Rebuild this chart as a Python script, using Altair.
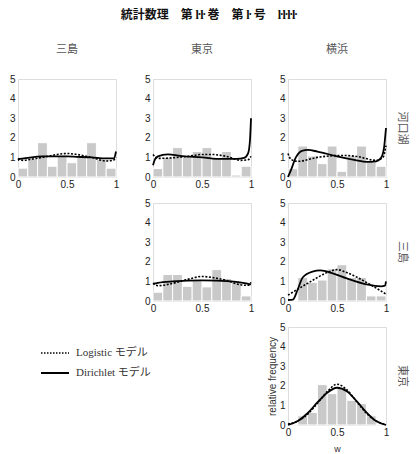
import altair as alt
import pandas as pd

# ---------------- data ----------------
bin_lo = [0.0, 0.1, 0.2, 0.3, 0.4, 0.5, 0.6, 0.7, 0.8, 0.9]
bin_hi = [0.1, 0.2, 0.3, 0.4, 0.5, 0.6, 0.7, 0.8, 0.9, 1.0]

col_names = ["三島", "東京", "横浜"]
row_names = ["河口湖", "三島", "東京"]

# row 河口湖 / col 三島
bars_k_m = [0.45, 0.95, 1.75, 0.55, 1.1, 0.73, 1.07, 1.75, 0.9, 0.45]
sol_x_k_m = [0.0, 0.02, 0.1, 0.25, 0.4, 0.5, 0.6, 0.75, 0.9, 0.98, 1.0]
sol_y_k_m = [0.85, 0.92, 0.98, 1.05, 1.05, 1.05, 1.03, 1.0, 0.95, 0.95, 1.3]
dot_x_k_m = [0.0, 0.05, 0.15, 0.25, 0.4, 0.5, 0.6, 0.75, 0.9, 0.97, 1.0]
dot_y_k_m = [0.95, 0.85, 0.92, 1.0, 1.15, 1.2, 1.15, 1.0, 0.82, 0.85, 1.0]

# row 河口湖 / col 東京
bars_k_t = [0.43, 1.0, 1.5, 1.0, 1.3, 1.5, 0.95, 1.3, 0.1, 0.55]
sol_x_k_t = [0.0, 0.02, 0.05, 0.15, 0.3, 0.5, 0.7, 0.85, 0.93, 0.97, 0.99, 1.0]
sol_y_k_t = [0.6, 0.9, 1.05, 1.15, 1.07, 1.0, 0.92, 0.92, 0.97, 1.2, 1.9, 3.0]
dot_x_k_t = [0.0, 0.05, 0.2, 0.35, 0.5, 0.6, 0.75, 0.9, 0.97, 1.0]
dot_y_k_t = [1.15, 0.95, 0.98, 1.05, 1.15, 1.15, 1.05, 0.85, 0.88, 1.05]

# row 河口湖 / col 横浜
bars_k_y = [0.42, 1.58, 1.07, 0.68, 1.58, 0.29, 1.07, 1.58, 0.76, 0.55]
sol_x_k_y = [0.0, 0.03, 0.08, 0.15, 0.2, 0.3, 0.5, 0.7, 0.8, 0.9, 0.95, 0.98, 1.0]
sol_y_k_y = [0.0, 0.35, 1.0, 1.35, 1.38, 1.3, 1.05, 0.85, 0.77, 0.8, 0.98, 1.5, 2.5]
dot_x_k_y = [0.0, 0.03, 0.1, 0.3, 0.55, 0.7, 0.9, 0.97, 1.0]
dot_y_k_y = [1.2, 0.9, 0.8, 1.0, 1.1, 1.05, 0.85, 1.0, 1.6]

# row 三島 / col 東京
bars_m_t = [0.45, 1.35, 1.35, 0.75, 1.08, 0.72, 1.6, 1.15, 0.97, 0.26]
sol_x_m_t = [0.0, 0.05, 0.2, 0.5, 0.8, 0.95, 1.0]
sol_y_m_t = [0.88, 0.93, 1.0, 1.05, 1.0, 0.9, 0.85]
dot_x_m_t = [0.0, 0.05, 0.2, 0.35, 0.5, 0.6, 0.75, 0.9, 0.97, 1.0]
dot_y_m_t = [0.9, 0.78, 0.9, 1.1, 1.25, 1.2, 1.05, 0.82, 0.8, 0.95]

# row 三島 / col 横浜
bars_m_y = [0.0, 1.2, 0.95, 1.07, 1.64, 1.85, 1.2, 1.2, 0.26, 0.26]
sol_x_m_y = [0.0, 0.05, 0.1, 0.15, 0.25, 0.33, 0.45, 0.6, 0.8, 0.95, 0.99, 1.0]
sol_y_m_y = [0.05, 0.07, 0.6, 1.2, 1.5, 1.56, 1.42, 1.15, 0.85, 0.75, 0.78, 1.0]
dot_x_m_y = [0.0, 0.2, 0.4, 0.5, 0.6, 0.8, 1.0]
dot_y_m_y = [0.3, 0.9, 1.45, 1.6, 1.45, 0.95, 0.35]

# row 東京 / col 横浜
bars_t_y = [0.0, 0.47, 0.64, 2.06, 1.6, 1.9, 1.26, 1.09, 0.47, 0.0]
sol_x_t_y = [0.0, 0.1, 0.2, 0.3, 0.4, 0.5, 0.6, 0.7, 0.8, 0.9, 1.0]
sol_y_t_y = [0.0, 0.2, 0.6, 1.15, 1.65, 1.9, 1.72, 1.22, 0.65, 0.2, 0.0]
dot_x_t_y = [0.0, 0.1, 0.2, 0.3, 0.4, 0.5, 0.6, 0.7, 0.8, 0.9, 1.0]
dot_y_t_y = [0.05, 0.2, 0.55, 1.1, 1.7, 2.08, 1.8, 1.2, 0.6, 0.2, 0.02]

title_text = "統計数理　第 ŀŀ 巻　第 ŀ 号　ŀŀŀŀ"
legend_labels = ["Logistic モデル", "Dirichlet モデル"]

# ---------------- chart ----------------
W = 98
H = 98
CJK = "Noto Sans CJK JP"
SANS = "Liberation Sans"
SERIF = "Liberation Serif, Noto Sans CJK JP"

xscale = alt.Scale(domain=[0, 1], nice=False, zero=False)
yscale = alt.Scale(domain=[0, 5], nice=False)


def make_xaxis(xtitle):
    kw = dict(values=[0, 0.5, 1], format="~g", labelFlush=False, ticks=False,
              domain=False, grid=False, labelFont=SANS, labelFontSize=10,
              labelColor="#222", labelPadding=2, labelOverlap=False)
    if xtitle:
        return alt.Axis(title=xtitle, titleFont=SANS, titleFontSize=9,
                        titleFontWeight="normal", titleColor="#333", titlePadding=7, **kw)
    return alt.Axis(title=None, **kw)


def make_yaxis(ytitle):
    kw = dict(values=[0, 1, 2, 3, 4, 5], labelFlush=False, ticks=False,
              domain=False, grid=False, labelFont=SANS, labelFontSize=10,
              labelColor="#222", labelPadding=3, labelOverlap=False)
    if ytitle:
        return alt.Axis(title=ytitle, titleFont=SANS, titleFontSize=10,
                        titleFontWeight="normal", titleColor="#333", titlePadding=2, **kw)
    return alt.Axis(title=None, **kw)


def panel(bars, sx, sy, dx, dy, title=None, row_label=None, xtitle=None, ytitle=None):
    bdf = pd.DataFrame({"lo": bin_lo, "hi": bin_hi, "f": bars})
    sdf = pd.DataFrame({"x": sx, "y": sy})
    ddf = pd.DataFrame({"x": dx, "y": dy})
    xa = make_xaxis(xtitle)
    ya = make_yaxis(ytitle)
    b = alt.Chart(bdf).mark_bar(color="#c9c9c9", stroke="white", strokeWidth=1).encode(
        x=alt.X("lo:Q", scale=xscale, axis=xa),
        x2="hi:Q",
        y=alt.Y("f:Q", scale=yscale, axis=ya),
        y2=alt.datum(0),
    )
    d = alt.Chart(ddf).mark_line(color="black", strokeWidth=1.6, strokeDash=[2, 1.6],
                                 interpolate="monotone").encode(
        x=alt.X("x:Q", scale=xscale, axis=xa), y=alt.Y("y:Q", scale=yscale, axis=ya))
    s = alt.Chart(sdf).mark_line(color="black", strokeWidth=1.8,
                                 interpolate="monotone").encode(
        x=alt.X("x:Q", scale=xscale, axis=xa), y=alt.Y("y:Q", scale=yscale, axis=ya))
    layers = [b, d, s]
    if row_label:
        t = alt.Chart(pd.DataFrame({"t": [row_label]})).mark_text(
            angle=90, font=CJK, fontSize=11, color="#555", align="center", baseline="middle"
        ).encode(text="t:N", x=alt.value(W + 16), y=alt.value(H / 2))
        layers.append(t)
    ch = alt.layer(*layers).properties(width=W, height=H)
    if title:
        ch = ch.properties(title=alt.TitleParams(title, font=CJK, fontSize=11, color="#555",
                                                 fontWeight="normal", offset=19))
    return ch


def blank():
    return alt.Chart(pd.DataFrame({"a": [0]})).mark_text(text="").encode(
        x=alt.value(0), y=alt.value(0)
    ).properties(width=W, height=H, view=alt.ViewBackground(stroke=None))


def legend_cell():
    ldf = pd.DataFrame({"t": legend_labels})
    r1 = alt.Chart(ldf.iloc[[0]]).mark_rule(color="black", strokeWidth=1.5,
                                            strokeDash=[1.5, 1.5]).encode(
        x=alt.value(23), x2=alt.value(51), y=alt.value(26))
    r2 = alt.Chart(ldf.iloc[[1]]).mark_rule(color="black", strokeWidth=2).encode(
        x=alt.value(23), x2=alt.value(51), y=alt.value(46))
    t1 = alt.Chart(ldf.iloc[[0]]).mark_text(font=SERIF, fontSize=11, color="#333",
                                            align="left", baseline="middle").encode(
        text="t:N", x=alt.value(58), y=alt.value(26))
    t2 = alt.Chart(ldf.iloc[[1]]).mark_text(font=SERIF, fontSize=11, color="#333",
                                            align="left", baseline="middle").encode(
        text="t:N", x=alt.value(58), y=alt.value(46))
    return alt.layer(r1, r2, t1, t2).properties(width=W, height=H,
                                                view=alt.ViewBackground(stroke=None))


cells = [
    panel(bars_k_m, sol_x_k_m, sol_y_k_m, dot_x_k_m, dot_y_k_m, title=col_names[0]),
    panel(bars_k_t, sol_x_k_t, sol_y_k_t, dot_x_k_t, dot_y_k_t, title=col_names[1]),
    panel(bars_k_y, sol_x_k_y, sol_y_k_y, dot_x_k_y, dot_y_k_y, title=col_names[2],
          row_label=row_names[0]),
    blank(),
    panel(bars_m_t, sol_x_m_t, sol_y_m_t, dot_x_m_t, dot_y_m_t),
    panel(bars_m_y, sol_x_m_y, sol_y_m_y, dot_x_m_y, dot_y_m_y, row_label=row_names[1]),
    legend_cell(),
    blank(),
    panel(bars_t_y, sol_x_t_y, sol_y_t_y, dot_x_t_y, dot_y_t_y, row_label=row_names[2],
          xtitle="w", ytitle="relative frequency"),
]

chart = alt.concat(*cells, columns=3, spacing={"row": 26, "column": 37},
                   bounds="flush").properties(
    title=alt.TitleParams(title_text, font=CJK, fontSize=12, fontWeight="bold",
                          color="#111", anchor="middle", offset=22),
    padding={"left": 8, "top": 8, "right": 4, "bottom": 4},
).configure_view(stroke="black", strokeWidth=1).configure(background="white")

chart.save("out.html", embed_options={"renderer": "svg", "actions": False})
